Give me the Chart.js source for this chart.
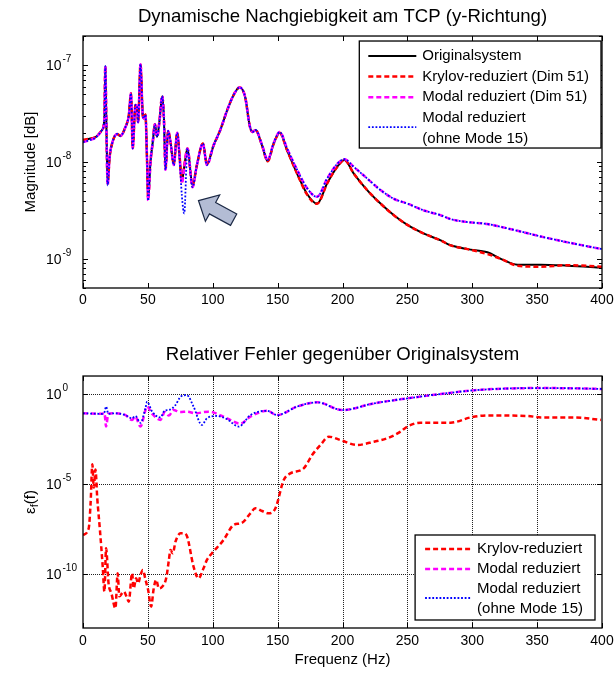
<!DOCTYPE html>
<html>
<head>
<meta charset="utf-8">
<script src="https://cdn.jsdelivr.net/npm/chart.js@4.4.1/dist/chart.umd.min.js"></script>
<style>
  html, body { margin: 0; padding: 0; background: #fff; }
  #wrap { position: relative; width: 616px; height: 673px; }
  .pane { position: absolute; left: 0; width: 616px; }
  #paneTop { top: 0; height: 330px; }
  #paneBottom { top: 330px; height: 343px; }
</style>
</head>
<body>
<div id="wrap">
  <div class="pane" id="paneTop"><canvas id="chartTop" width="616" height="330"></canvas></div>
  <div class="pane" id="paneBottom"><canvas id="chartBottom" width="616" height="343"></canvas></div>
</div>
<script>
'use strict';

// ---- obere Grafik: Nachgiebigkeit ----
var freqTop = [0, 5, 10, 14.7, 16.5, 17.2, 18, 19, 20.5, 22.4, 26.3, 28.8, 32.7, 35.3, 37, 38.3, 40.4, 41.5, 42.5, 44.3,
  46.1, 47, 48.1, 49.4, 50.2, 52, 53.8, 55.4, 57.1, 59, 61, 62.3, 63.6, 65.6, 67.4, 70, 72.6, 74.4, 76.2, 78,
  80.5, 84.4, 87.8, 92.4, 95.5, 100.6, 105.8, 111, 116, 120.7, 125, 128.4, 130.5, 133, 138, 142.3, 147, 151.6, 157.3, 165,
  172.7, 180.4, 188.2, 195.9, 201.5, 208.7, 219, 229.3, 239.6, 250, 262.8, 275.7, 283.4, 296.3, 311.7, 322, 334.9, 352.9, 373.5, 400];

var magOriginal = [1.66e-8, 1.74e-8, 1.82e-8, 2.14e-8, 2.82e-8, 9.77e-8, 2.51e-8, 6.0e-9, 1.12e-8, 1.55e-8, 1.95e-8, 1.86e-8, 2.29e-8, 3.02e-8, 5.13e-8, 1.38e-8, 3.89e-8, 3.80e-8, 2.57e-8, 1.02e-7,
  3.02e-8, 2.82e-8, 3.09e-8, 1.0e-8, 4.17e-9, 1.0e-8, 1.62e-8, 2.45e-8, 1.82e-8, 2.69e-8, 4.79e-8, 2.95e-8, 8.51e-9, 2.09e-8, 1.62e-8, 9.55e-9, 2.0e-8, 1.17e-8, 6.31e-9, 8.91e-9,
  1.38e-8, 5.75e-9, 9.33e-9, 1.55e-8, 9.55e-9, 1.48e-8, 2.14e-8, 3.39e-8, 4.90e-8, 5.89e-8, 4.68e-8, 2.40e-8, 2.04e-8, 2.14e-8, 1.48e-8, 1.02e-8, 1.55e-8, 2.0e-8, 1.32e-8, 7.59e-9,
  4.68e-9, 3.72e-9, 6.03e-9, 8.91e-9, 1.05e-8, 7.59e-9, 5.13e-9, 3.72e-9, 2.82e-9, 2.24e-9, 1.82e-9, 1.55e-9, 1.38e-9, 1.26e-9, 1.17e-9, 1.0e-9, 8.71e-10, 8.71e-10, 8.51e-10, 8.13e-10];

var magKrylov = [1.70e-8, 1.74e-8, 1.82e-8, 2.14e-8, 2.82e-8, 9.77e-8, 2.51e-8, 6.0e-9, 1.12e-8, 1.55e-8, 1.95e-8, 1.86e-8, 2.29e-8, 3.02e-8, 5.13e-8, 1.38e-8, 3.89e-8, 3.80e-8, 2.57e-8, 1.02e-7,
  3.02e-8, 2.82e-8, 3.09e-8, 1.0e-8, 4.17e-9, 1.0e-8, 1.62e-8, 2.45e-8, 1.82e-8, 2.69e-8, 4.79e-8, 2.95e-8, 8.51e-9, 2.09e-8, 1.62e-8, 9.55e-9, 2.0e-8, 1.17e-8, 6.31e-9, 8.91e-9,
  1.38e-8, 5.75e-9, 9.33e-9, 1.55e-8, 9.55e-9, 1.48e-8, 2.14e-8, 3.39e-8, 4.90e-8, 5.89e-8, 4.68e-8, 2.40e-8, 2.04e-8, 2.14e-8, 1.48e-8, 1.02e-8, 1.55e-8, 2.0e-8, 1.32e-8, 7.59e-9,
  4.60e-9, 3.70e-9, 6.03e-9, 8.91e-9, 1.05e-8, 7.59e-9, 5.13e-9, 3.72e-9, 2.82e-9, 2.24e-9, 1.82e-9, 1.55e-9, 1.38e-9, 1.26e-9, 1.12e-9, 1.0e-9, 8.5e-10, 8.3e-10, 8.6e-10, 8.3e-10];

var magModal = [1.60e-8, 1.68e-8, 1.80e-8, 2.14e-8, 2.82e-8, 9.77e-8, 2.51e-8, 5.75e-9, 1.12e-8, 1.55e-8, 1.95e-8, 1.86e-8, 2.29e-8, 3.02e-8, 5.13e-8, 1.38e-8, 3.89e-8, 3.80e-8, 2.57e-8, 1.02e-7,
  3.02e-8, 2.82e-8, 3.09e-8, 1.0e-8, 4.0e-9, 1.0e-8, 1.62e-8, 2.45e-8, 1.82e-8, 2.69e-8, 4.79e-8, 2.95e-8, 8.3e-9, 2.09e-8, 1.62e-8, 9.3e-9, 2.0e-8, 1.15e-8, 6.0e-9, 8.7e-9,
  1.38e-8, 5.5e-9, 9.33e-9, 1.55e-8, 9.3e-9, 1.48e-8, 2.14e-8, 3.39e-8, 4.90e-8, 5.89e-8, 4.68e-8, 2.40e-8, 2.04e-8, 2.14e-8, 1.50e-8, 1.05e-8, 1.58e-8, 2.04e-8, 1.38e-8, 8.32e-9,
  5.37e-9, 4.37e-9, 6.76e-9, 9.55e-9, 1.07e-8, 8.91e-9, 6.76e-9, 5.13e-9, 4.17e-9, 3.72e-9, 3.16e-9, 2.82e-9, 2.57e-9, 2.40e-9, 2.29e-9, 2.14e-9, 1.95e-9, 1.70e-9, 1.48e-9, 1.26e-9];

var magModalOhne15 = [1.60e-8, 1.68e-8, 1.80e-8, 2.14e-8, 2.82e-8, 9.77e-8, 2.51e-8, 5.75e-9, 1.12e-8, 1.55e-8, 1.95e-8, 1.86e-8, 2.29e-8, 3.02e-8, 5.13e-8, 1.38e-8, 3.89e-8, 3.80e-8, 2.57e-8, 1.02e-7,
  3.02e-8, 2.82e-8, 3.09e-8, 1.0e-8, 4.0e-9, 1.0e-8, 1.62e-8, 2.45e-8, 1.82e-8, 2.69e-8, 4.79e-8, 2.95e-8, 8.3e-9, 2.09e-8, 1.62e-8, 9.3e-9, 2.0e-8, 1.1e-8, 4.5e-9, 2.95e-9,
  1.38e-8, 5.5e-9, 9.33e-9, 1.55e-8, 9.3e-9, 1.48e-8, 2.14e-8, 3.39e-8, 4.90e-8, 5.89e-8, 4.68e-8, 2.40e-8, 2.04e-8, 2.14e-8, 1.50e-8, 1.05e-8, 1.58e-8, 2.04e-8, 1.38e-8, 8.32e-9,
  5.37e-9, 4.37e-9, 6.76e-9, 9.55e-9, 1.07e-8, 8.91e-9, 6.76e-9, 5.13e-9, 4.17e-9, 3.72e-9, 3.16e-9, 2.82e-9, 2.57e-9, 2.40e-9, 2.29e-9, 2.14e-9, 1.95e-9, 1.70e-9, 1.48e-9, 1.26e-9];

// ---- untere Grafik: relativer Fehler ----
var errFreqKrylov = [0, 4.4, 5.9, 7.2, 8.3, 9.6, 11, 13.1, 15.2, 16.5, 17.8, 19.7, 21.9, 25, 26.7, 28, 31.4, 33.5, 35.3, 37.8,
  39.1, 40.9, 42.5, 44.3, 46.1, 48.2, 50.2, 52.5, 54.5, 56.4, 58.5, 61, 64.1, 66.2, 67.4, 69.2, 71.3, 75.2, 77.5, 80.3,
  85.2, 89, 92.9, 95.5, 99.4, 108.3, 116, 121.2, 123.8, 129, 132.8, 138, 143.1, 148.3, 154.7, 159.8, 170.1, 176.6, 183, 189.4,
  198.5, 211.3, 224.2, 234.5, 244.8, 250, 260.3, 283.4, 298.8, 311.7, 342.6, 352.9, 378.6, 399.2];
var errKrylov = [1.48e-8, 3.47e-8, 1.0e-6, 1.26e-4, 6.31e-6, 6.31e-5, 1.58e-6, 2.51e-8, 2.57e-10, 1.05e-11, 2.69e-9, 3.02e-11, 8.51e-12, 1.23e-12, 1.10e-10, 5.75e-12, 1.05e-11, 5.75e-12, 2.88e-12, 1.10e-10,
  1.58e-11, 5.75e-11, 3.02e-11, 8.71e-11, 1.66e-10, 4.68e-11, 1.29e-11, 1.55e-12, 1.58e-11, 4.68e-11, 1.58e-11, 1.95e-11, 5.75e-11, 6.03e-10, 2.14e-9, 1.41e-9, 6.31e-9, 1.82e-8, 1.82e-8, 1.17e-8,
  2.57e-10, 5.75e-11, 2.09e-10, 6.03e-10, 1.41e-9, 7.76e-9, 5.25e-8, 6.46e-8, 8.13e-8, 2.34e-7, 4.47e-7, 3.16e-7, 2.34e-7, 4.47e-7, 1.66e-5, 3.89e-5, 7.41e-5, 4.07e-4, 1.48e-3, 4.27e-3,
  2.75e-3, 1.48e-3, 2.24e-3, 3.47e-3, 8.13e-3, 1.55e-2, 2.57e-2, 2.57e-2, 5.01e-2, 6.46e-2, 6.03e-2, 5.01e-2, 5.01e-2, 3.63e-2];

var errFreqModal = [0, 14.7, 16.5, 17.8, 19.5, 24, 32.7, 37.8, 40.3, 44.3, 48.1, 49.4, 53.3, 59.7, 63, 66.2, 69.7, 75, 80.4, 86.5,
  96.8, 111, 121.2, 129, 141.9, 149.6, 165, 180.5, 199.8, 224.2, 250, 275.7, 300, 325, 350, 375, 400];
var errModal = [8.51e-2, 7.94e-2, 8.91e-2, 1.55e-2, 7.94e-2, 8.51e-2, 6.76e-2, 3.63e-2, 5.50e-2, 1.55e-2, 0.126, 0.2, 7.94e-2, 3.63e-2, 0.1, 6.31e-2, 0.129, 0.1, 0.105, 8.51e-2,
  0.105, 4.47e-2, 2.24e-2, 5.50e-2, 0.117, 6.76e-2, 0.2, 0.347, 0.129, 0.302, 0.575, 1.0, 1.58, 2.0, 2.14, 2.09, 1.91];

var errFreqModalOhne15 = [0, 14.7, 16.5, 17.8, 19.5, 24, 32.7, 37.8, 40.3, 44.3, 48.1, 49.4, 53.3, 59.7, 63, 66.2, 71.3, 75.2, 80, 85.2,
  91.6, 95.5, 103, 111, 120, 129, 141.9, 149.6, 165, 180.5, 199.8, 224.2, 250, 275.7, 300, 325, 350, 375, 400];
var errModalOhne15 = [8.51e-2, 7.94e-2, 9.5e-2, 0.2, 7.94e-2, 8.51e-2, 6.76e-2, 4.5e-2, 6.0e-2, 2.51e-2, 0.158, 0.372, 0.105, 5.01e-2, 0.12, 0.129, 0.245, 0.708, 0.871, 0.2,
  1.91e-2, 4.47e-2, 6.03e-2, 4.0e-2, 1.55e-2, 6.76e-2, 0.117, 6.76e-2, 0.2, 0.347, 0.129, 0.302, 0.575, 1.0, 1.58, 2.0, 2.14, 2.09, 1.91];

// ---- Achsen ----
var xTickValues = [0, 50, 100, 150, 200, 250, 300, 350, 400];
var topYDecades = [1e-9, 1e-8, 1e-7];
var bottomYDecades = [1e-10, 1e-5, 1];

Chart.defaults.font.family = '"Liberation Sans", Arial, Helvetica, sans-serif';
Chart.defaults.color = '#000';

function pts(xs, ys) {
  return xs.map(function (x, i) { return { x: x, y: ys[i] }; });
}

// MATLAB-artige Achsen: Rahmen, Ticks nach innen, 10^n Beschriftung, Legende
var matlabAxes = {
  id: 'matlabAxes',
  beforeDatasetsDraw: function (chart, args, o) {
    if (!o.grid) return;
    var ctx = chart.ctx, a = chart.chartArea, xs = chart.scales.x, ys = chart.scales.y;
    ctx.save();
    ctx.strokeStyle = '#222';
    ctx.lineWidth = 1;
    ctx.setLineDash([1, 1]);
    o.xTicks.forEach(function (v) {
      var px = Math.round(xs.getPixelForValue(v)) + 0.5;
      if (px <= a.left + 2 || px >= a.right - 2) return;
      ctx.beginPath(); ctx.moveTo(px, a.top); ctx.lineTo(px, a.bottom); ctx.stroke();
    });
    o.yMajor.forEach(function (v) {
      var py = Math.round(ys.getPixelForValue(v)) + 0.5;
      ctx.beginPath(); ctx.moveTo(a.left, py); ctx.lineTo(a.right, py); ctx.stroke();
    });
    ctx.restore();
  },
  afterDatasetsDraw: function (chart, args, o) {
    var ctx = chart.ctx, a = chart.chartArea, xs = chart.scales.x, ys = chart.scales.y;
    ctx.save();
    ctx.strokeStyle = '#000';
    ctx.lineWidth = 1;
    ctx.setLineDash([]);
    ctx.beginPath();
    o.xTicks.forEach(function (v) {
      var px = Math.round(xs.getPixelForValue(v)) + 0.5;
      ctx.moveTo(px, a.bottom); ctx.lineTo(px, a.bottom - 5);
      ctx.moveTo(px, a.top); ctx.lineTo(px, a.top + 5);
    });
    o.yMajor.forEach(function (v) {
      var py = Math.round(ys.getPixelForValue(v)) + 0.5;
      ctx.moveTo(a.left, py); ctx.lineTo(a.left + 5, py);
      ctx.moveTo(a.right, py); ctx.lineTo(a.right - 5, py);
    });
    if (o.minor) {
      [1e-10, 1e-9, 1e-8, 1e-7].forEach(function (d) {
        for (var m = 2; m <= 9; m++) {
          var v = m * d;
          if (v < ys.min || v > ys.max) continue;
          var py = Math.round(ys.getPixelForValue(v)) + 0.5;
          ctx.moveTo(a.left, py); ctx.lineTo(a.left + 3, py);
          ctx.moveTo(a.right, py); ctx.lineTo(a.right - 3, py);
        }
      });
    }
    ctx.stroke();
    ctx.lineWidth = 1.3;
    ctx.strokeRect(a.left, a.top, a.right - a.left, a.bottom - a.top);

    if (o.arrow) {
      // Pfeil auf die Abweichung "ohne Mode 15"
      var tx = xs.getPixelForValue(o.arrow.x), ty = ys.getPixelForValue(o.arrow.y);
      var ux = -0.879, uy = -0.477, nx = 0.477, ny = -0.879;
      var shape = [[0, 0], [16, 15], [16, 6.5], [40, 6.5], [40, -6.5], [16, -6.5], [16, -15]];
      ctx.beginPath();
      shape.forEach(function (p, i) {
        var X = tx - p[0] * ux + p[1] * nx, Y = ty - p[0] * uy + p[1] * ny;
        if (i === 0) ctx.moveTo(X, Y); else ctx.lineTo(X, Y);
      });
      ctx.closePath();
      ctx.fillStyle = '#b3bcd4';
      ctx.fill();
      ctx.strokeStyle = '#1c2945';
      ctx.lineWidth = 1.2;
      ctx.stroke();
    }
    ctx.restore();
  },
  afterDraw: function (chart, args, o) {
    var ctx = chart.ctx, a = chart.chartArea, ys = chart.scales.y;
    ctx.save();
    ctx.fillStyle = '#000';
    // y-Beschriftung 10^n
    o.yMajor.forEach(function (v) {
      var py = ys.getPixelForValue(v);
      var e = Math.round(Math.log10(v));
      ctx.font = '14px "Liberation Sans", Arial, sans-serif';
      ctx.textAlign = 'right';
      ctx.textBaseline = 'middle';
      ctx.fillText('10', a.left - 21.5, py + 1);
      ctx.font = '10px "Liberation Sans", Arial, sans-serif';
      ctx.textAlign = 'left';
      ctx.fillText(String(e), a.left - 20.5, py - 6);
    });
    // y-Titel mit Index
    if (o.yTitle) {
      var parts = o.yTitle;
      ctx.translate(o.yTitleX, (a.top + a.bottom) / 2);
      ctx.rotate(-Math.PI / 2);
      var total = 0;
      parts.forEach(function (p) {
        ctx.font = p.size + 'px "Liberation Sans", Arial, sans-serif';
        p.w = ctx.measureText(p.t).width;
        total += p.w;
      });
      var cx = -total / 2;
      ctx.textAlign = 'left';
      ctx.textBaseline = 'middle';
      parts.forEach(function (p) {
        ctx.font = p.size + 'px "Liberation Sans", Arial, sans-serif';
        ctx.fillText(p.t, cx, p.dy || 0);
        cx += p.w;
      });
      ctx.setTransform(1, 0, 0, 1, 0, 0);
    }
    // Legende
    var L = o.legend;
    if (L) {
      ctx.font = L.font + 'px "Liberation Sans", Arial, sans-serif';
      var rows = chart.data.datasets.map(function (ds) { return ds.label.split('\n'); });
      var maxW = 0, nLines = 0;
      rows.forEach(function (r) {
        r.forEach(function (t) { maxW = Math.max(maxW, ctx.measureText(t).width); });
        nLines += r.length;
      });
      var w = L.padL + L.lineLen + L.gap + maxW + L.padR;
      var h = L.padTop + (nLines - 1) * L.lineH + L.padBottom;
      var bx = a.right - L.right - w;
      var by = L.anchor === 'top' ? a.top + L.offset : a.bottom - L.offset - h;
      ctx.fillStyle = '#fff';
      ctx.fillRect(bx, by, w, h);
      ctx.strokeStyle = '#000';
      ctx.lineWidth = 1.3;
      ctx.strokeRect(bx, by, w, h);
      var ly = by + L.padTop;
      rows.forEach(function (r, i) {
        var ds = chart.data.datasets[i];
        var sy = ly + (r.length - 1) * L.lineH / 2 - (r.length > 1 ? 1 : 0);
        ctx.strokeStyle = ds.borderColor;
        ctx.lineWidth = ds.borderWidth;
        ctx.setLineDash(ds.borderDash || []);
        ctx.beginPath();
        ctx.moveTo(bx + L.padL, sy);
        ctx.lineTo(bx + L.padL + L.lineLen, sy);
        ctx.stroke();
        ctx.setLineDash([]);
        ctx.fillStyle = '#000';
        ctx.textAlign = 'left';
        ctx.textBaseline = 'middle';
        r.forEach(function (t) {
          ctx.fillText(t, bx + L.padL + L.lineLen + L.gap, ly);
          ly += L.lineH;
        });
      });
    }
    ctx.restore();
  }
};

var lineBase = { pointRadius: 0, fill: false, cubicInterpolationMode: 'monotone' };

function ds(label, data, color, width, dash, order) {
  return Object.assign({ label: label, data: data, borderColor: color, borderWidth: width, borderDash: dash, order: order }, lineBase);
}

// x-Achse: feste Hoehe, Plotrand nicht von der letzten Beschriftung verschieben lassen
function fitX(h) {
  return function (s) { s.height = h; s.paddingLeft = 0; s.paddingRight = 14; };
}

// ---- obere Grafik ----
new Chart(document.getElementById('chartTop'), {
  type: 'line',
  data: {
    datasets: [
      ds('Originalsystem', pts(freqTop, magOriginal), '#000000', 2, [], 4),
      ds('Krylov-reduziert (Dim 51)', pts(freqTop, magKrylov), '#ff0000', 2.5, [5, 3], 3),
      ds('Modal reduziert (Dim 51)', pts(freqTop, magModal), '#ff00ff', 2.5, [5, 3], 2),
      ds('Modal reduziert\n(ohne Mode 15)', pts(freqTop, magModalOhne15), '#0000ff', 1.8, [1.8, 1.8], 1)
    ]
  },
  options: {
    responsive: false,
    animation: false,
    events: [],
    layout: { padding: { left: 0, right: 14, top: 0, bottom: 0 } },
    plugins: {
      legend: { display: false },
      tooltip: { enabled: false },
      title: {
        display: true, fullSize: false, text: 'Dynamische Nachgiebigkeit am TCP (y-Richtung)', color: '#000',
        font: { size: 18.6, weight: 'normal', lineHeight: 1.2 }, padding: { top: 5.8, bottom: 7.9 }
      },
      matlabAxes: {
        xTicks: xTickValues, yMajor: topYDecades, minor: true,
        arrow: { x: 89, y: 4e-9 },
        legend: { anchor: 'top', offset: 5, right: 1, font: 15, padTop: 15, padBottom: 9.6, lineH: 20.6, padL: 9, lineLen: 48, gap: 6, padR: 12 }
      }
    },
    scales: {
      x: {
        type: 'linear', min: 0, max: 400,
        ticks: { stepSize: 50, color: '#000', font: { size: 14 }, padding: 4, maxRotation: 0, autoSkip: false },
        grid: { display: false, drawTicks: false },
        border: { display: false },
        afterFit: fitX(42)
      },
      y: {
        type: 'logarithmic', min: 5e-10, max: 2e-7,
        ticks: { display: false },
        grid: { display: false, drawTicks: false },
        border: { display: false },
        title: { display: true, text: 'Magnitude [dB]', color: '#000', font: { size: 15, lineHeight: 1.2 }, padding: { top: 22, bottom: 0 } },
        afterFit: function (s) { s.width = 83; }
      }
    }
  },
  plugins: [matlabAxes]
});

// ---- untere Grafik ----
new Chart(document.getElementById('chartBottom'), {
  type: 'line',
  data: {
    datasets: [
      ds('Krylov-reduziert', pts(errFreqKrylov, errKrylov), '#ff0000', 2.5, [5, 3], 3),
      ds('Modal reduziert', pts(errFreqModal, errModal), '#ff00ff', 2.5, [5, 3], 2),
      ds('Modal reduziert\n(ohne Mode 15)', pts(errFreqModalOhne15, errModalOhne15), '#0000ff', 1.8, [1.8, 1.8], 1)
    ]
  },
  options: {
    responsive: false,
    animation: false,
    events: [],
    layout: { padding: { left: 0, right: 14, top: 0, bottom: 0 } },
    plugins: {
      legend: { display: false },
      tooltip: { enabled: false },
      title: {
        display: true, fullSize: false, text: 'Relativer Fehler gegenüber Originalsystem', color: '#000',
        font: { size: 18.6, weight: 'normal', lineHeight: 1.2 }, padding: { top: 13.8, bottom: 9.9 }
      },
      matlabAxes: {
        xTicks: xTickValues, yMajor: bottomYDecades, minor: false, grid: true,
        yTitle: [{ t: 'ε', size: 15 }, { t: 'f', size: 11, dy: 4 }, { t: '(f)', size: 15 }],
        yTitleX: 31,
        legend: { anchor: 'bottom', offset: 8, right: 7, font: 15, padTop: 14, padBottom: 11, lineH: 20, padL: 10, lineLen: 46, gap: 6, padR: 12 }
      }
    },
    scales: {
      x: {
        type: 'linear', min: 0, max: 400,
        ticks: { stepSize: 50, color: '#000', font: { size: 14 }, padding: 5, maxRotation: 0, autoSkip: false },
        grid: { display: false, drawTicks: false },
        border: { display: false },
        title: { display: true, text: 'Frequenz (Hz)', color: '#000', font: { size: 15, lineHeight: 1.2 }, padding: { top: 0, bottom: 4 } },
        afterFit: fitX(45)
      },
      y: {
        type: 'logarithmic', min: 1e-13, max: 10,
        ticks: { display: false },
        grid: { display: false, drawTicks: false },
        border: { display: false },
        afterFit: function (s) { s.width = 83; }
      }
    }
  },
  plugins: [matlabAxes]
});
</script>
</body>
</html>
